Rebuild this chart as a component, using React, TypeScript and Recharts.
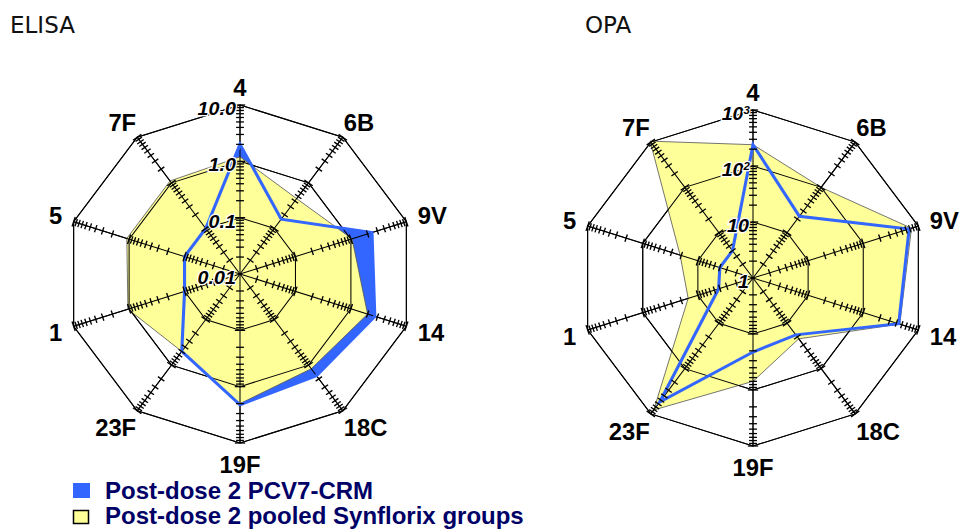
import React from 'react';
import { RadarChart, Radar, PolarGrid, PolarAngleAxis, PolarRadiusAxis } from 'recharts';

// ---------- data ----------
const serotypes = ['4', '6B', '9V', '14', '18C', '19F', '23F', '1', '5', '7F'];

const elisaPcv7 = [2.0, 0.16, 2.4, 2.7, 1.7, 2.1, 0.5, 0.1, 0.1, 0.1];
const elisaSynflorix = [1.2, 0.45, 1.05, 2.0, 1.2, 2.0, 0.5, 1.05, 1.1, 1.1];

const opaPcv7 = [240, 23, 680, 440, 18, 21, 550, 4.2, 4, 4];
const opaSynflorix = [240, 100, 750, 460, 22, 70, 820, 15, 21, 1050];

const elisaTicks = [0.01, 0.1, 1, 10];
const elisaTickLabels = ['0.01', '0.1', '1.0', '10.0'];
const opaTicks = [1, 10, 100, 1000];
const opaTickLabels = ['1', '10', '10\u00B2', '10\u00B3'];
const minorMultipliers = [1, 2, 3, 4, 5, 6, 7, 8, 9];

const legendItems = [
  { label: 'Post-dose 2 PCV7-CRM', color: '#3366ff', border: 'none' },
  { label: 'Post-dose 2 pooled Synflorix groups', color: '#ffff99', border: '#000' },
];

const BLUE = '#3366ff';
const YELLOW = '#ffff99';
const STRETCH = 1.035;
const SUPERSCRIPTS: Record<string, string> = { '\u00B2': '2', '\u00B3': '3' };

function buildTable(pcv: number[], syn: number[]) {
  return serotypes.map((name, i) => ({ name, pcv: pcv[i], syn: syn[i] }));
}

function buildMinorTicks(major: number[]) {
  const out: number[] = [];
  for (let d = 0; d < major.length - 1; d++) {
    for (const m of minorMultipliers) {
      if (d === 0 && m === 1) continue; // no tick at the centre
      out.push(major[d] * m);
    }
  }
  out.push(major[major.length - 1]);
  return out;
}

const axisAngles = serotypes.map((_, i) => 90 - 36 * i);

function makeCategoryTick(cx: number, cy: number, R: number) {
  return (props: any) => {
    const { payload } = props;
    const a = (payload.coordinate * Math.PI) / 180;
    const c = Math.cos(a);
    const s = Math.sin(a);
    const ex = cx + R * c;
    const ey = cy - R * s;
    const anchor = c > 0.3 ? 'start' : c < -0.3 ? 'end' : 'middle';
    const gap = Math.abs(c) > 0.9 ? 11 : Math.abs(c) > 0.3 ? 1 : 0;
    const x = ex + Math.sign(c) * gap;
    const y = ey - s * (s > 0 ? 17 : 22);
    return (
      <text
        x={x}
        y={y}
        textAnchor={anchor}
        dominantBaseline="central"
        fontFamily="'Liberation Sans', Arial, sans-serif"
        fontWeight="bold"
        fontSize={23}
        fill="#000"
      >
        {payload.value}
      </text>
    );
  };
}

function makeMinorTick(angle: number, majors: number[]) {
  const a = (angle * Math.PI) / 180;
  const px = Math.sin(a);
  const py = Math.cos(a);
  return (props: any) => {
    const { x, y, payload } = props;
    const v = payload.value;
    const isMajor = majors.some((m) => Math.abs(m - v) / m < 1e-6);
    const h = isMajor ? 5 : 3.8;
    return (
      <line
        x1={x - h * px}
        y1={y - h * py}
        x2={x + h * px}
        y2={y + h * py}
        stroke="#000"
        strokeWidth={1.3}
      />
    );
  };
}

function makeLabelTick(ticks: number[], labels: string[]) {
  return (props: any) => {
    const { x, y, payload } = props;
    const idx = ticks.findIndex((t) => Math.abs(t - payload.value) / t < 1e-6);
    const label = idx >= 0 ? labels[idx] : '';
    const last = label.slice(-1);
    const sup = SUPERSCRIPTS[last];
    return (
      <text
        x={x - (sup ? 3 : 4)}
        y={y + 10}
        textAnchor="end"
        fontFamily="'Liberation Sans', Arial, sans-serif"
        fontStyle="italic"
        fontWeight="bold"
        fontSize={19}
        fill="#000"
        stroke="#fff"
        strokeWidth={2.5}
        paintOrder="stroke"
      >
        {sup ? (
          <>
            {label.slice(0, -1)}
            <tspan fontSize={11} dy={-6}>
              {sup}
            </tspan>
          </>
        ) : (
          label
        )}
      </text>
    );
  };
}

function RadarPanel(props: {
  pcv: number[];
  syn: number[];
  ticks: number[];
  tickLabels: string[];
  cx: number;
  cy: number;
  R: number;
  width: number;
}) {
  const { pcv, syn, ticks, tickLabels, cx, cy, R, width } = props;
  const data = buildTable(pcv, syn);
  const domain: [number, number] = [ticks[0], ticks[ticks.length - 1]];
  const allTicks = buildMinorTicks(ticks);
  return (
    <RadarChart
      width={width}
      height={529}
      data={data}
      cx={cx}
      cy={cy}
      outerRadius={R}
      startAngle={90}
      endAngle={-270}
      margin={{ top: 0, right: 0, bottom: 0, left: 0 }}
    >
      <PolarGrid gridType="polygon" stroke="#000" strokeWidth={1} strokeOpacity={1} />
      <PolarAngleAxis
        dataKey="name"
        tick={makeCategoryTick(cx, cy, R)}
        axisLine={false}
        tickLine={false}
      />
      <PolarRadiusAxis
        radiusAxisId={0}
        angle={90}
        type="number"
        scale="log"
        domain={domain}
        ticks={ticks}
        allowDataOverflow
        axisLine={false}
        tick={false}
      />
      <Radar
        dataKey="pcv"
        fill={BLUE}
        fillOpacity={1}
        stroke="none"
        isAnimationActive={false}
      />
      <Radar
        dataKey="syn"
        fill={YELLOW}
        fillOpacity={1}
        stroke="#555"
        strokeWidth={0.8}
        isAnimationActive={false}
      />
      <PolarGrid
        gridType="polygon"
        stroke="#000"
        strokeWidth={1}
        strokeOpacity={1}
        zIndex={150}
      />
      <Radar
        dataKey="pcv"
        fill="none"
        fillOpacity={0}
        stroke={BLUE}
        strokeWidth={3}
        isAnimationActive={false}
        zIndex={200}
      />
      {axisAngles.map((ang, i) => (
        <PolarRadiusAxis
          key={`m${i}`}
          radiusAxisId={`m${i}`}
          angle={ang}
          type="number"
          scale="log"
          domain={domain}
          ticks={allTicks}
          allowDataOverflow
          axisLine={false}
          tick={makeMinorTick(ang, ticks)}
        />
      ))}
      <PolarRadiusAxis
        radiusAxisId="labels"
        angle={90}
        type="number"
        scale="log"
        domain={domain}
        ticks={ticks}
        allowDataOverflow
        axisLine={false}
        tick={makeLabelTick(ticks, tickLabels)}
      />
    </RadarChart>
  );
}

export default function App() {
  return (
    <div
      style={{
        position: 'absolute',
        left: 0,
        top: 0,
        width: 961,
        height: 529,
        background: '#fff',
        overflow: 'hidden',
      }}
    >
      <div
        style={{
          position: 'absolute',
          left: 0,
          top: 0,
          transform: `scaleX(${STRETCH})`,
          transformOrigin: '240px 0px',
        }}
      >
        <RadarPanel
          pcv={elisaPcv7}
          syn={elisaSynflorix}
          ticks={elisaTicks}
          tickLabels={elisaTickLabels}
          cx={240}
          cy={274}
          R={169}
          width={480}
        />
      </div>
      <div
        style={{
          position: 'absolute',
          left: 480,
          top: 0,
          transform: `scaleX(${STRETCH})`,
          transformOrigin: '273px 0px',
        }}
      >
        <RadarPanel
          pcv={opaPcv7}
          syn={opaSynflorix}
          ticks={opaTicks}
          tickLabels={opaTickLabels}
          cx={273}
          cy={278}
          R={168}
          width={481}
        />
      </div>
      <svg
        width={961}
        height={529}
        style={{ position: 'absolute', left: 0, top: 0, pointerEvents: 'none' }}
      >
        <text x={10} y={33} fontFamily="'DejaVu Sans', Verdana, sans-serif" fontSize={23} fill="#111">
          ELISA
        </text>
        <text x={585} y={33} fontFamily="'DejaVu Sans', Verdana, sans-serif" fontSize={23} fill="#111">
          OPA
        </text>
        {legendItems.map((it, i) => (
          <g key={it.label}>
            <rect
              x={i === 0 ? 73 : 73.5}
              y={i === 0 ? 483 : 510.5}
              width={i === 0 ? 17 : 15}
              height={i === 0 ? 15 : 13}
              fill={it.color}
              stroke={it.border}
              strokeWidth={1.5}
            />
            <text
              x={105}
              y={i === 0 ? 499 : 524}
              fontFamily="'Liberation Sans', Arial, sans-serif"
              fontWeight="bold"
              fontSize={24}
              fill="#000066"
            >
              {it.label}
            </text>
          </g>
        ))}
      </svg>
    </div>
  );
}
